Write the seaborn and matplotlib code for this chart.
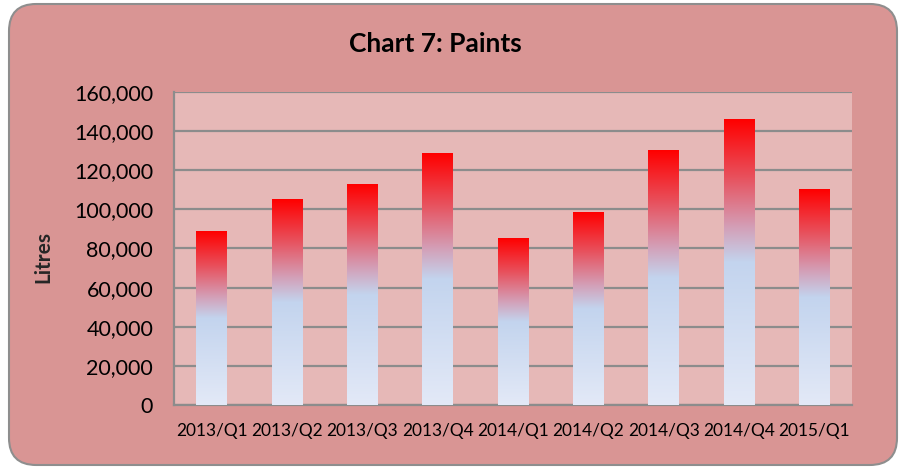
import matplotlib
matplotlib.use("Agg")
import matplotlib.pyplot as plt
import seaborn as sns
import numpy as np
import pandas as pd
from matplotlib.patches import FancyBboxPatch
from matplotlib.colors import LinearSegmentedColormap
from matplotlib.ticker import FuncFormatter, MultipleLocator

# --- DATA ---
quarters = ['2013/Q1', '2013/Q2', '2013/Q3', '2013/Q4', '2014/Q1',
            '2014/Q2', '2014/Q3', '2014/Q4', '2015/Q1']
litres = [88500, 105000, 112500, 128800, 85000, 98200, 129900, 145700, 110400]

df = pd.DataFrame({'Quarter': quarters, 'Litres': litres})

# --- STYLE ---
sns.set_style('white')
plt.rcParams['font.family'] = ['Lato', 'DejaVu Sans']

fig_bg = '#D99594'
plot_bg = '#E6B8B7'
grid_col = '#8C8C8C'

fig = plt.figure(figsize=(9.05, 4.69), dpi=100)
fig.patch.set_facecolor('white')

# rounded chart-area frame
frame = FancyBboxPatch((9 / 905, 4 / 469), 888 / 905, 461 / 469,
                       boxstyle='round,pad=0,rounding_size=0.03',
                       transform=fig.transFigure, facecolor=fig_bg,
                       edgecolor='#8E8E8E', linewidth=1.5, zorder=-5,
                       mutation_aspect=905 / 469)
fig.patches.append(frame)

ax = fig.add_axes([174 / 905, 1 - 405 / 469, 678 / 905, 313 / 469])
ax.set_zorder(2)
ax.set_facecolor(plot_bg)

sns.barplot(data=df, x='Quarter', y='Litres', ax=ax, color='red',
            width=0.41, saturation=1, zorder=3)

# gradient fill per bar: red top -> light blue middle -> pale bottom
grad = LinearSegmentedColormap.from_list(
    'paint', [(0.0, '#E3E9F7'), (0.5, '#C3D4EE'), (0.62, '#D3A0B8'),
              (0.8, '#E8505C'), (1.0, '#FF0000')])
g = np.linspace(0, 1, 256).reshape(-1, 1)
for p in ax.patches:
    x0, y0 = p.get_x(), p.get_y()
    w, h = p.get_width(), p.get_height()
    p.set_facecolor('none')
    p.set_edgecolor('none')
    ax.imshow(g, cmap=grad, origin='lower', aspect='auto',
              extent=[x0, x0 + w, y0, y0 + h], zorder=3)

ax.set_xlim(-0.5, len(quarters) - 0.5)
ax.set_ylim(0, 160000)
ax.yaxis.set_major_locator(MultipleLocator(20000))
ax.yaxis.set_major_formatter(FuncFormatter(lambda v, _: f'{int(v):,}'))

ax.grid(axis='y', color=grid_col, linewidth=1.6, zorder=1)
ax.set_axisbelow(True)
for s in ['top', 'right']:
    ax.spines[s].set_visible(False)
for s in ['left', 'bottom']:
    ax.spines[s].set_color(grid_col)
    ax.spines[s].set_linewidth(1.6)

# category boundary ticks on x
ax.set_xticks(np.arange(-0.5, len(quarters), 1.0), minor=True)
ax.tick_params(axis='x', which='major', length=0, labelsize=12.4, pad=13,
               colors='black')
ax.tick_params(axis='x', which='minor', length=6, width=1.6, color=grid_col,
               direction='out')
ax.tick_params(axis='y', length=6, width=1.6, color=grid_col,
               labelsize=15.5, pad=9, labelcolor='black')

ax.set_xlabel('')
ax.set_ylabel('Litres', fontsize=15, fontweight='bold')
ax.yaxis.set_label_coords(-0.178, 0.473)

fig.text(435 / 905, 1 - 44 / 469, 'Chart 7: Paints', ha='center',
         va='center', fontsize=19, fontweight='bold', color='black')

fig.savefig('out.png', dpi=100, facecolor=fig.get_facecolor())
